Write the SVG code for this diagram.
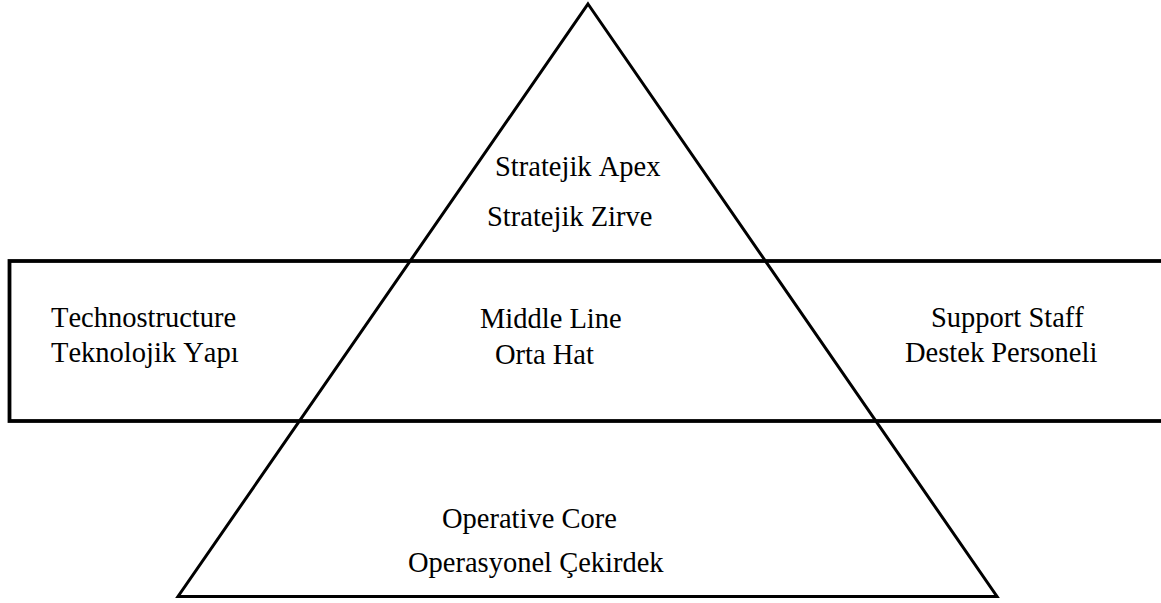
<svg xmlns="http://www.w3.org/2000/svg" width="1161" height="603" viewBox="0 0 1161 603">
  <style>
    .shape { fill: none; stroke: #000; stroke-linejoin: miter; }
    .lbl { font-family: "Liberation Serif", "Times New Roman", serif; font-size: 28.5px; fill: #000; font-kerning: none; }
  </style>
  <rect width="1161" height="603" fill="#fff"/>
  <g id="connectors">
    <!-- pyramid outline -->
    <polygon class="shape" stroke-width="3" points="588,4 997,596.5 178,596.5"/>
    <!-- horizontal band across the middle, running off the right edge -->
    <rect class="shape" stroke-width="3.8" x="9.5" y="261" width="1170" height="160"/>
  </g>
  <g id="strategic-apex">
    <text class="lbl" x="495" y="176">Stratejik Apex</text>
    <text class="lbl" x="487" y="226">Stratejik Zirve</text>
  </g>
  <g id="technostructure">
    <text class="lbl" x="51" y="327">Technostructure</text>
    <text class="lbl" x="51" y="362">Teknolojik Yapı</text>
  </g>
  <g id="middle-line">
    <text class="lbl" x="480" y="328">Middle Line</text>
    <text class="lbl" x="495" y="364">Orta Hat</text>
  </g>
  <g id="support-staff">
    <text class="lbl" x="931" y="327">Support Staff</text>
    <text class="lbl" x="905" y="362">Destek Personeli</text>
  </g>
  <g id="operative-core">
    <text class="lbl" x="442" y="528">Operative Core</text>
    <text class="lbl" x="408" y="572">Operasyonel Çekirdek</text>
  </g>
</svg>
